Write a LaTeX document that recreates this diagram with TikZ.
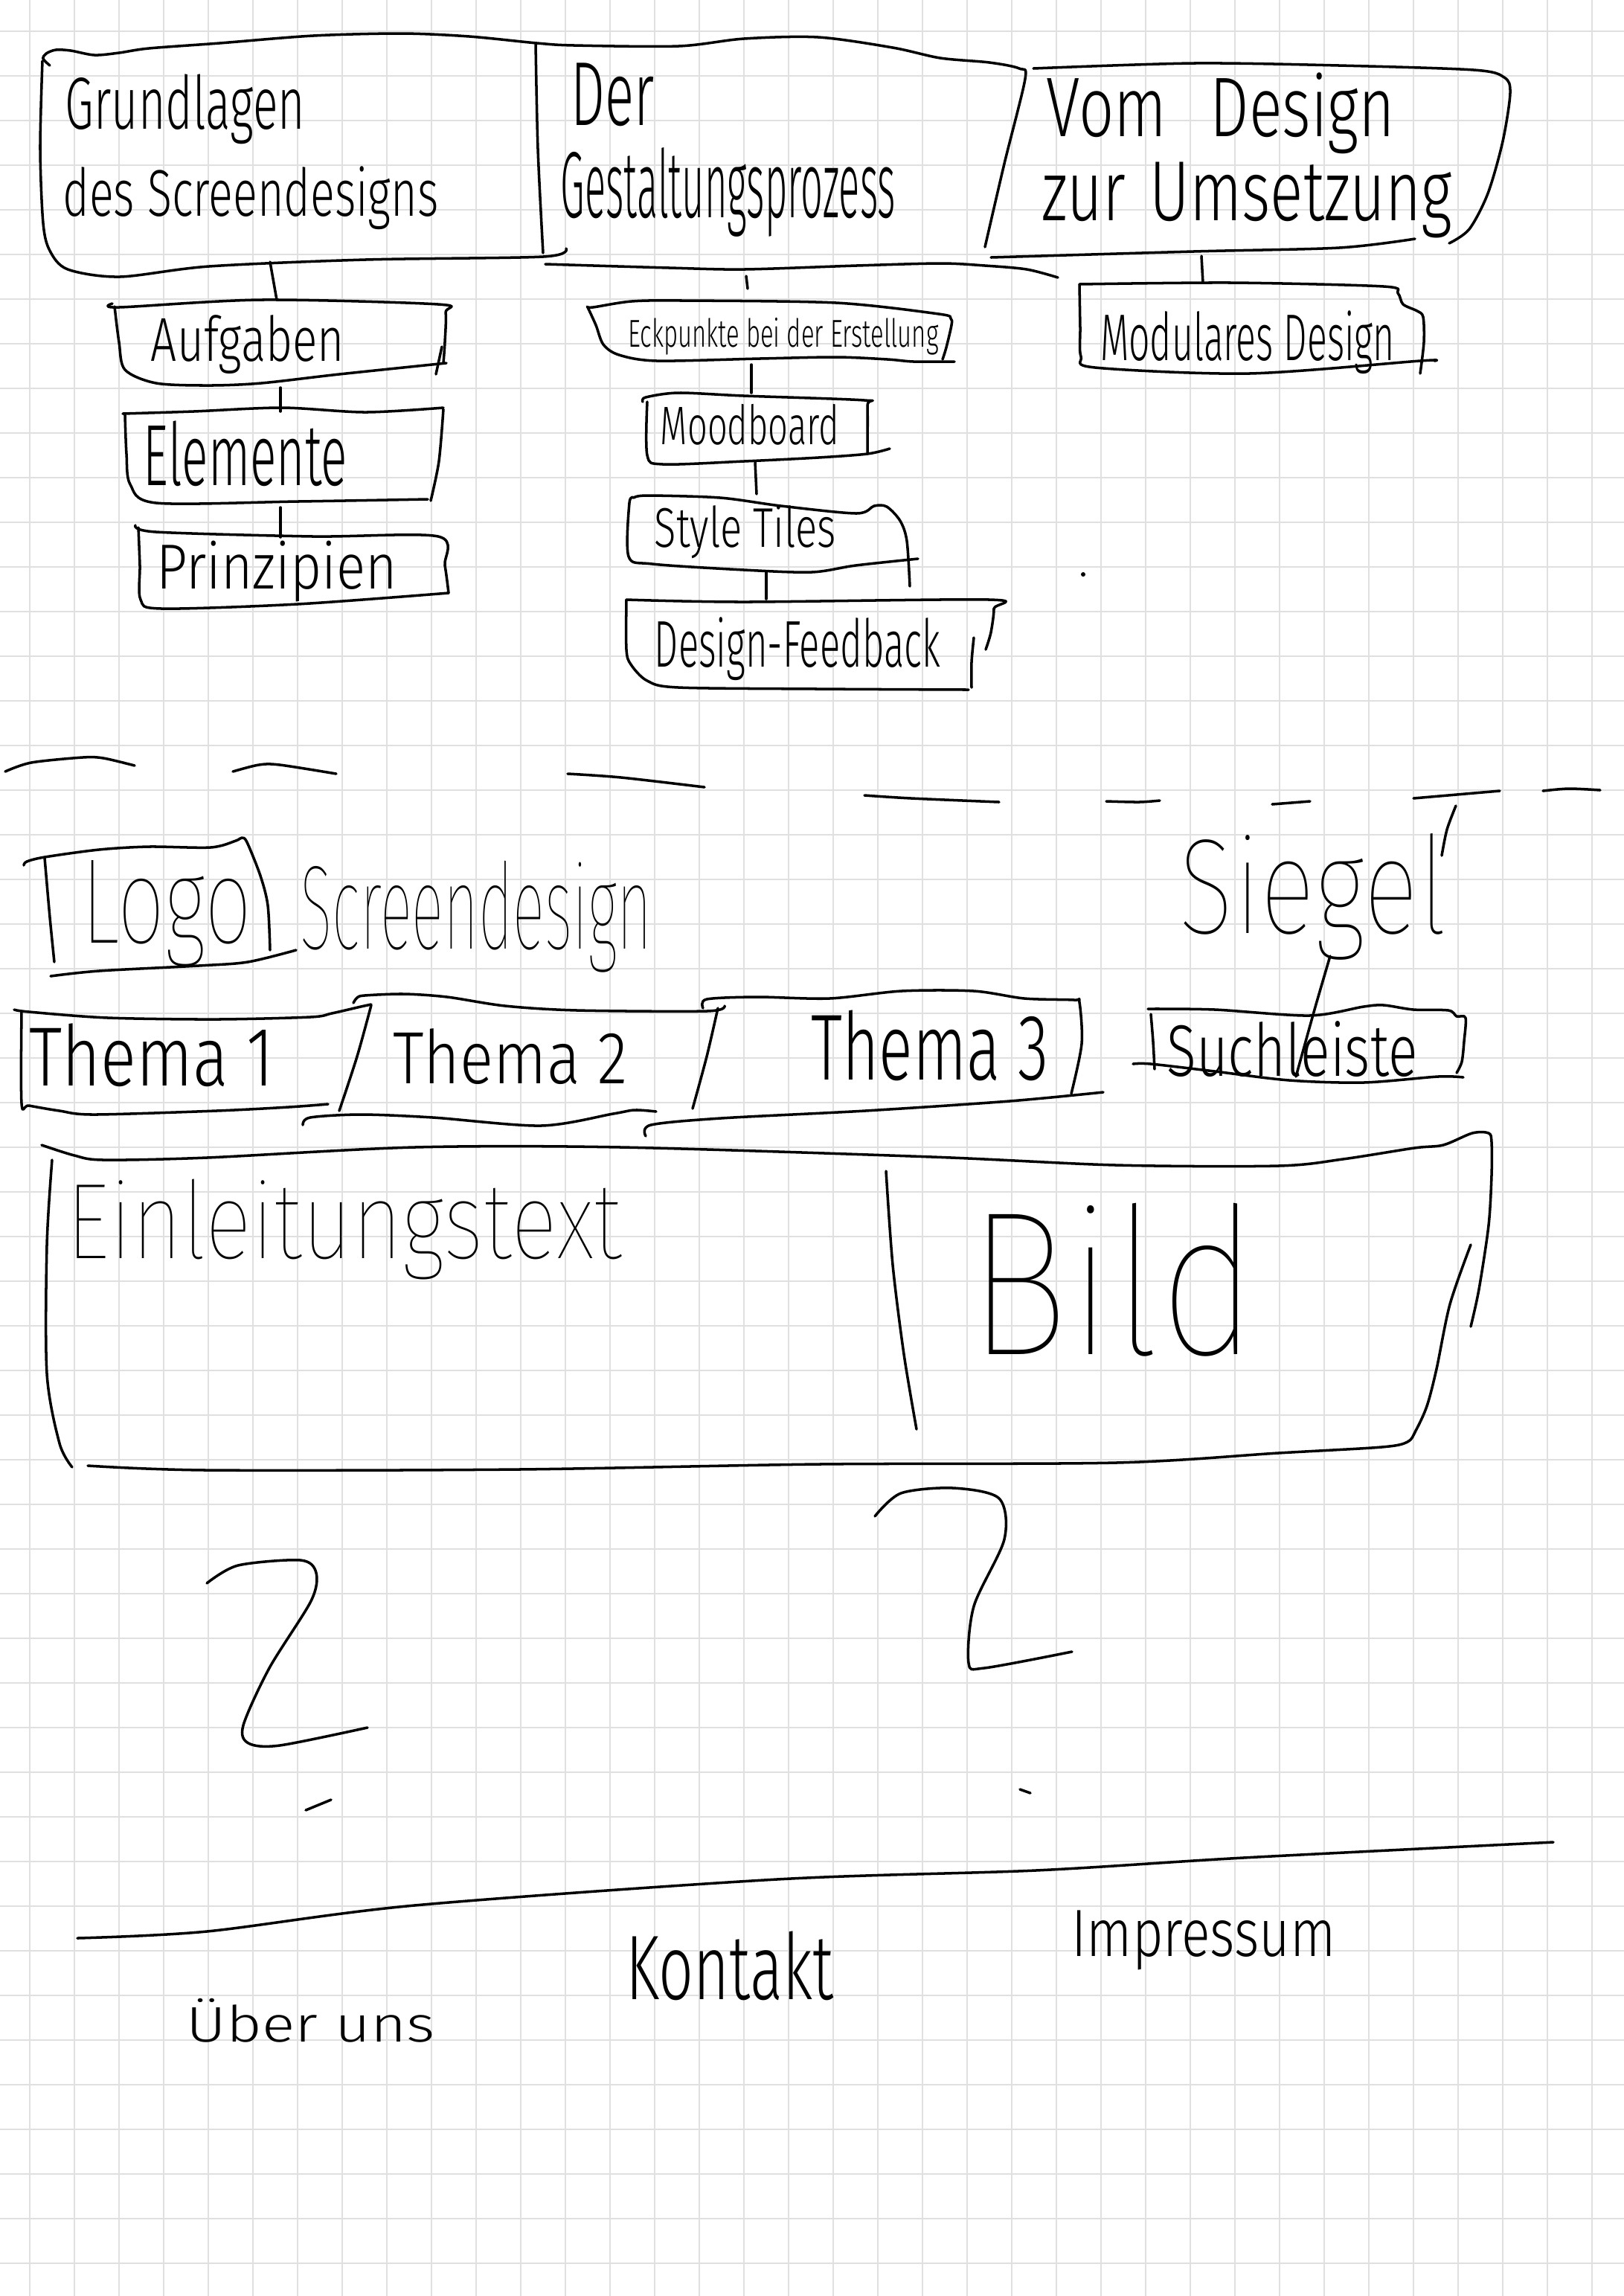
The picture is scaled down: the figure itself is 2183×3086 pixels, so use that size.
\documentclass[tikz,border=0pt]{standalone}
\usepackage{fontspec}
\setmainfont{Fira Sans}[UprightFont={* Light}]
\newfontfamily\penthin{Fira Sans}[UprightFont={* Thin}]
\usepackage{graphicx}
\newlength\pxu
\setlength\pxu{0.01cm}
% scale a label to a given width and total height (in pixel units)
\newcommand\hw[3]{\resizebox*{#1\pxu}{#2\pxu}{#3}}
\tikzset{
  pen/.style={line width=1pt, line cap=round, line join=round, draw=black},
  gridline/.style={line width=0.6pt, draw=black!12},
  lbl/.style={inner sep=0pt, outer sep=0pt, anchor=center},
  sm/.style={smooth, tension=0.5},
}
\begin{document}
\begin{tikzpicture}[x=0.01cm, y=-0.01cm]
% paper and squared grid
\fill[white] (0,0) rectangle (2183,3086);
\useasboundingbox (0,0) rectangle (2183,3086);
\foreach \k in {0,...,35} \draw[gridline] ({40+60*\k},0) -- ({40+60*\k},3086);
\foreach \k in {0,...,50} \draw[gridline] (0,{42+60*\k}) -- (2183,{42+60*\k});

% ---------------- sitemap: three main chapters ----------------
\draw[pen] plot[sm] coordinates {(67,88) (58,79) (62,72) (75,67) (95,68) (127,74) (160,71) (200,65) (295,58) (421,48) (540,45) (631,49) (722,58) (772,61) (912,62) (1000,52) (1100,50) (1200,64) (1264,78) (1330,84) (1370,92) (1378,106) (1350,220) (1324,332)};
\draw[pen] plot[sm] coordinates {(720,58) (723,200) (730,340)};
\draw[pen] plot[sm] coordinates {(57,82) (54,200) (58,300) (67,337) (91,362) (161,372) (281,358) (491,349) (730,345) (761,334)};
\draw[pen] plot[sm] coordinates {(733,355) (900,360) (1000,362) (1151,357) (1264,354) (1324,357) (1380,362) (1422,373)};
\draw[pen] plot[sm] coordinates {(1389,92) (1604,85) (1800,88) (1981,94) (2022,104) (2030,125) (2020,190) (2000,260) (1975,308) (1948,327)};
\draw[pen] plot[sm] coordinates {(1332,346) (1604,338) (1800,333) (1902,321)};

\node[lbl] (grundlagen1) at (249,147) {\hw{322}{94}{Grundlagen}};
\node[lbl] (grundlagen2) at (337,266) {\hw{505}{85}{des Screendesigns}};
\node[lbl] (der) at (824,127) {\hw{112}{85}{Der}};
\node[lbl] (gestaltung) at (979,258) {\hw{450}{120}{Gestaltungsprozess}};
\node[lbl] (vom) at (1641,152) {\hw{468}{109}{Vom\hspace{0.7em}Design}};
\node[lbl] (umsetzung) at (1676,269) {\hw{551}{102}{zur\hspace{0.4em}Umsetzung}};

% ---------------- column 1 ----------------
\coordinate (c1a) at (363,352); \coordinate (c1b) at (372,403);
\draw[pen] (c1a) -- (c1b);
\draw[pen] plot[sm] coordinates {(151,408) (160,413) (351,403) (589,409) (599,420) (598,460) (596,488)};
\draw[pen] plot[sm] coordinates {(154,412) (160,460) (168,497) (210,515) (281,518) (351,515) (456,503) (600,488)};
\draw[pen] (594,466) -- (586,503);
\node[lbl] (aufgaben) at (333,463) {\hw{260}{79}{Aufgaben}};

\coordinate (c1c) at (377,521); \coordinate (c1d) at (377,553);
\draw[pen] (c1c) -- (c1d);
\draw[pen] plot[sm] coordinates {(165,556) (260,553) (379,548) (491,554) (596,548)};
\draw[pen] plot[sm] coordinates {(168,558) (170,610) (175,651) (210,676) (400,674) (575,671)};
\draw[pen] plot[sm] coordinates {(596,550) (590,620) (579,673)};
\node[lbl] (elemente) at (330,610) {\hw{274}{88}{Elemente}};

\coordinate (c1e) at (377,682); \coordinate (c1f) at (377,722);
\draw[pen] (c1e) -- (c1f);
\draw[pen] plot[sm] coordinates {(182,706) (210,715) (421,721) (589,721) (598,760) (603,797)};
\draw[pen] plot[sm] coordinates {(186,709) (188,760) (189,806) (217,818) (400,812) (603,797)};
\node[lbl] (prinzipien) at (372,768) {\hw{323}{82}{Prinzipien}};

% ---------------- column 2 ----------------
\coordinate (c2a) at (1003,371); \coordinate (c2b) at (1005,388);
\draw[pen] (c2a) -- (c2b);
\draw[pen] plot[sm] coordinates {(789,412) (797,413) (849,405) (918,404) (1124,407) (1262,422) (1278,428) (1279,437) (1272,467) (1267,483)};
\draw[pen] plot[sm] coordinates {(790,413) (801,437) (811,463) (832,477) (883,485) (1021,482) (1124,480) (1193,483) (1228,486) (1283,486)};
\node[lbl] (eckpunkte) at (1053,452) {\hw{417}{50}{Eckpunkte bei der Erstellung}};

\coordinate (c2c) at (1010,490); \coordinate (c2d) at (1010,528);
\draw[pen] (c2c) -- (c2d);
\draw[pen] plot[sm] coordinates {(864,540) (868,534) (912,528) (1000,532) (1162,538) (1166,545) (1166,608)};
\draw[pen] plot[sm] coordinates {(870,540) (870,612) (891,624) (1000,620) (1100,615) (1166,610) (1196,603)};
\node[lbl] (moodboard) at (1008,571) {\hw{240}{55}{Moodboard}};

\coordinate (c2e) at (1015,621); \coordinate (c2f) at (1017,664);
\draw[pen] (c2e) -- (c2f);
\draw[pen] plot[sm] coordinates {(852,669) (870,666) (968,669) (1050,680) (1151,690) (1175,680) (1192,681) (1210,700) (1219,727) (1223,788)};
\draw[pen] plot[sm] coordinates {(852,669) (846,676) (845,748) (877,758) (1000,766) (1091,769) (1150,760) (1234,751)};
\node[lbl] (styletiles) at (1002,715) {\hw{244}{72}{Style Tiles}};

\coordinate (c2g) at (1030,768); \coordinate (c2h) at (1030,805);
\draw[pen] (c2g) -- (c2h);
\draw[pen] plot[sm] coordinates {(842,806) (1000,809) (1330,806) (1336,818) (1332,850) (1325,873)};
\draw[pen] plot[sm] coordinates {(1309,857) (1306,890) (1306,924)};
\draw[pen] plot[sm] coordinates {(842,806) (842,873) (848,893) (870,915) (912,924) (1100,926) (1302,927)};
\node[lbl] (feedback) at (1072,872) {\hw{384}{85}{Design-Feedback}};

% ---------------- column 3 ----------------
\coordinate (c3a) at (1615,344); \coordinate (c3b) at (1617,380);
\draw[pen] (c3a) -- (c3b);
\draw[pen] plot[sm] coordinates {(1451,382) (1656,380) (1860,385) (1879,394) (1886,409) (1905,418) (1913,426) (1914,460) (1909,502)};
\draw[pen] plot[sm] coordinates {(1451,382) (1452,440) (1453,479) (1472,494) (1679,502) (1909,485) (1928,485)};
\node[lbl] (modular) at (1677,460) {\hw{396}{85}{Modulares Design}};

\fill (1456,772) circle (3);

% ---------------- separator ----------------
\draw[pen] plot[sm] coordinates {(7,1037) (42,1025) (111,1018) (139,1019) (181,1029)};
\draw[pen] plot[sm] coordinates {(313,1037) (348,1028) (376,1028) (452,1040)};
\draw[pen] plot[sm] coordinates {(763,1040) (835,1045) (947,1058)};
\draw[pen] plot[sm] coordinates {(1162,1069) (1225,1073) (1343,1078)};
\draw[pen] plot[sm] coordinates {(1487,1077) (1531,1078) (1559,1076)};
\draw[pen] plot[sm] coordinates {(1710,1081) (1761,1077)};
\draw[pen] plot[sm] coordinates {(1900,1073) (2016,1063)};
\draw[pen] plot[sm] coordinates {(2074,1063) (2109,1060) (2151,1062)};

% ---------------- page wireframe: header ----------------
\draw[pen] plot[sm] coordinates {(32,1163) (36,1158) (60,1152) (133,1142) (200,1138) (283,1139) (317,1130) (325,1126) (332,1132) (350,1177) (360,1217) (363,1277)};
\draw[pen] plot[sm] coordinates {(60,1153) (67,1233) (73,1293)};
\draw[pen] plot[sm] coordinates {(68,1312) (133,1305) (267,1298) (333,1293) (398,1277)};
\node[lbl] (logo) at (224,1228) {\hw{228}{143}{\penthin Logo}};
\node[lbl] (screendesign) at (640,1232) {\hw{473}{150}{\penthin Screendesign}};
\node[lbl] (siegel) at (1765,1205) {\hw{360}{170}{\penthin Siegel}};
\draw[pen] plot[sm] coordinates {(1957,1083) (1945,1115) (1938,1150)};
\draw[pen] plot[sm] coordinates {(1788,1285) (1767,1357) (1742,1447)};

% navigation tabs
\draw[pen] plot[sm] coordinates {(19,1357) (39,1360) (145,1368) (291,1370) (417,1367) (446,1362) (485,1353) (499,1350)};
\draw[pen] plot[sm] coordinates {(29,1360) (29,1483) (39,1486) (80,1493) (126,1498) (291,1493) (388,1488) (441,1484)};
\draw[pen] plot[sm] coordinates {(499,1351) (480,1420) (456,1493)};
\node[lbl] (thema1) at (204,1418) {\hw{329}{85}{Thema 1}};

\draw[pen] plot[sm] coordinates {(475,1348) (480,1341) (490,1338) (543,1336) (601,1340) (679,1352) (776,1358) (950,1359) (974,1352)};
\draw[pen] plot[sm] coordinates {(965,1355) (950,1420) (931,1490)};
\draw[pen] plot[sm] coordinates {(407,1512) (417,1502) (485,1498) (582,1502) (727,1513) (824,1497) (853,1492) (882,1494)};
\node[lbl] (thema2) at (686,1420) {\hw{315}{75}{Thema 2}};

\draw[pen] plot[sm] coordinates {(945,1355) (950,1343) (1018,1340) (1115,1342) (1212,1332) (1309,1332) (1377,1342) (1444,1344) (1451,1347) (1454,1403) (1440,1470)};
\draw[pen] plot[sm] coordinates {(868,1527) (875,1512) (969,1503) (1163,1493) (1357,1480) (1483,1468)};
\node[lbl] (thema3) at (1250,1405) {\hw{319}{95}{Thema 3}};

\draw[pen] plot[sm] coordinates {(1543,1356) (1633,1357) (1760,1365) (1833,1353) (1860,1351) (1900,1357) (1947,1358) (1958,1366) (1970,1368) (1968,1400) (1965,1427) (1958,1442)};
\draw[pen] plot[sm] coordinates {(1547,1363) (1550,1400) (1552,1437)};
\draw[pen] plot[sm] coordinates {(1523,1430) (1547,1430) (1633,1440) (1733,1452) (1833,1455) (1933,1447) (1967,1448)};
\node[lbl] (suchleiste) at (1737,1410) {\hw{337}{75}{Suchleiste}};

% ---------------- page wireframe: teaser ----------------
\draw[pen] plot[sm] coordinates {(56,1539) (100,1553) (139,1559) (278,1556) (557,1542) (835,1542) (1253,1555) (1500,1566) (1718,1567) (1805,1558) (1901,1543) (1940,1539) (1979,1523) (2001,1523) (2005,1535) (2005,1580) (2001,1647) (1988,1733) (1977,1783)};
\draw[pen] plot[sm] coordinates {(70,1559) (63,1674) (63,1846) (80,1940) (97,1972)};
\draw[pen] plot[sm] coordinates {(118,1970) (278,1976) (696,1975) (1100,1968) (1500,1966) (1718,1953) (1857,1945) (1892,1938) (1903,1923) (1918,1890) (1931,1840) (1949,1753) (1977,1673)};
\draw[pen] plot[sm] coordinates {(1191,1574) (1200,1700) (1215,1820) (1232,1921)};
\node[lbl] (einleitung) at (463,1652) {\hw{746}{135}{\penthin Einleitungstext}};
\node[lbl] (bild) at (1496,1720) {\hw{389}{206}{\penthin Bild}};

% ---------------- further content rows ----------------
\draw[pen] plot[sm] coordinates {(278,2128) (320,2104) (404,2097) (425,2114) (418,2152) (362,2242) (327,2319) (334,2343) (376,2346) (494,2322)};
\draw[pen] plot[sm] coordinates {(1176,2038) (1211,2007) (1281,2000) (1343,2014) (1350,2069) (1309,2159) (1302,2235) (1323,2242) (1441,2220)};
\draw[pen] (411,2433) -- (445,2419);
\draw[pen] (1371,2405) -- (1385,2410);

% ---------------- footer ----------------
\draw[pen] plot[sm] coordinates {(104,2605) (278,2596) (557,2561) (1044,2526) (1392,2514) (1671,2497) (2088,2476)};
\node[lbl] (ueberuns) at (418,2716) {\hw{334}{59}{Über uns}};
\node[lbl] (kontakt) at (981,2642) {\hw{279}{93}{Kontakt}};
\node[lbl] (impressum) at (1618,2608) {\hw{355}{80}{Impressum}};
\end{tikzpicture}
\end{document}
